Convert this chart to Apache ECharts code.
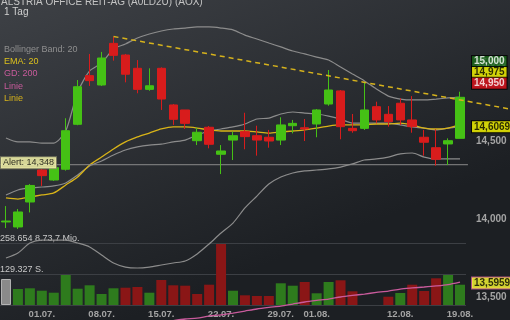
<!DOCTYPE html>
<html><head><meta charset="utf-8">
<script src="https://cdn.jsdelivr.net/npm/echarts@6/dist/echarts.min.js"></script>
<style>html,body{margin:0;padding:0;background:#2a2d31;}#c{width:510px;height:320px;}</style>
</head><body><div id="c"></div>
<script>
// ---------- data ----------
const titleText = 'ALSTRIA OFFICE REIT-AG (A0LD2U) (AOX)';
const subText = '1 Tag';
const legendItems = ['Bollinger Band: 20', 'EMA: 20', 'GD: 200', 'Linie', 'Linie'];

const dates = ['26.06.','27.06.','28.06.','01.07.','02.07.','03.07.','04.07.','05.07.','08.07.','09.07.','10.07.','11.07.','12.07.','15.07.','16.07.','17.07.','18.07.','19.07.','22.07.','23.07.','24.07.','25.07.','26.07.','29.07.','30.07.','31.07.','01.08.','02.08.','05.08.','06.08.','07.08.','08.08.','09.08.','12.08.','13.08.','14.08.','15.08.','16.08.','19.08.'];
const shownDates = ['01.07.','08.07.','15.07.','22.07.','29.07.','01.08.','12.08.','19.08.'];

const openV  = [13.981,13.949,14.109,14.314,14.250,14.319,14.607,14.919,14.859,15.126,15.051,14.966,14.831,14.966,14.731,14.699,14.502,14.588,14.415,14.506,14.560,14.534,14.524,14.506,14.598,14.585,14.609,14.737,14.821,14.581,14.581,14.720,14.671,14.742,14.635,14.524,14.457,14.481,14.517];
const closeV = [13.987,14.045,14.215,14.278,14.329,14.566,14.848,14.887,15.032,15.049,14.928,14.831,14.854,14.769,14.639,14.613,14.556,14.479,14.436,14.534,14.528,14.506,14.500,14.603,14.613,14.577,14.699,14.827,14.592,14.566,14.699,14.635,14.624,14.635,14.592,14.492,14.383,14.502,14.780];
const lowV   = [13.942,13.936,14.042,14.212,14.244,14.310,14.601,14.853,14.853,15.015,14.876,14.806,14.822,14.699,14.603,14.577,14.474,14.453,14.288,14.378,14.447,14.406,14.457,14.474,14.549,14.500,14.524,14.726,14.511,14.553,14.571,14.613,14.592,14.603,14.553,14.406,14.342,14.346,14.517];
const highV  = [14.083,14.064,14.224,14.321,14.337,14.646,14.891,15.058,15.071,15.169,15.058,15.019,14.966,14.972,14.737,14.699,14.585,14.596,14.474,14.560,14.681,14.598,14.571,14.652,14.635,14.641,14.705,14.955,14.827,14.673,14.874,14.752,14.724,14.774,14.788,14.571,14.575,14.517,14.816];

const bbUpper = [14.519,14.494,14.494,14.487,14.487,14.564,14.814,14.949,15.000,15.090,15.122,15.160,15.186,15.205,15.218,15.224,15.231,15.231,15.224,15.212,15.179,15.154,15.128,15.103,15.077,15.058,15.038,15.019,14.974,14.929,14.885,14.833,14.788,14.769,14.763,14.763,14.769,14.776,14.782];
const bbMiddle = [14.154,14.186,14.199,14.205,14.212,14.231,14.282,14.340,14.372,14.410,14.442,14.462,14.474,14.480,14.494,14.506,14.538,14.564,14.577,14.590,14.609,14.641,14.647,14.673,14.686,14.679,14.673,14.660,14.640,14.615,14.615,14.615,14.615,14.603,14.590,14.583,14.571,14.583,14.590];
const bbLower = [13.750,13.782,13.846,13.865,13.865,13.865,13.846,13.821,13.769,13.718,13.692,13.686,13.692,13.705,13.718,13.731,13.776,13.840,13.910,13.974,14.071,14.147,14.224,14.269,14.295,14.308,14.314,14.321,14.333,14.353,14.378,14.385,14.397,14.417,14.423,14.397,14.385,14.385,14.385];
const ema20 = [14.135,14.128,14.141,14.154,14.167,14.218,14.269,14.346,14.397,14.449,14.494,14.526,14.551,14.577,14.590,14.590,14.583,14.571,14.564,14.564,14.564,14.558,14.551,14.558,14.564,14.571,14.583,14.596,14.603,14.603,14.603,14.609,14.609,14.615,14.603,14.583,14.577,14.583,14.6069];
const gd200 = ['-','-','-','-','-','-','-','-','-','-','-','-','-','-',13.349,13.359,13.365,13.378,13.385,13.397,13.410,13.423,13.433,13.442,13.455,13.468,13.478,13.487,13.500,13.510,13.519,13.529,13.538,13.551,13.558,13.564,13.571,13.580,13.5959];

const volume = [108467,66749,69669,59657,51313,125154,68000,82185,45890,69669,72172,75092,51313,104295,82185,80516,45890,84687,254480,59657,40466,37546,37546,90528,80516,95951,48810,95951,103044,57154,null,null,34626,50062,84687,58405,111387,125154,84687];

const priceTicks = [13.5, 14.0, 14.5, 15.0];
const volTicks = [129327, 258654];
const volTickLabels = ['129.327 S.', '258.654 8.73,7 Mio.'];

const alertLevel = 14.348;
const trendStart = [9, 15.170];      // [category index, price]
const trendEnd = [42.18, 14.705];
const quoteValues = [15.000, 14.975, 14.950];

// ---------- styles ----------
const FONT = "'Liberation Sans', Arial, sans-serif";
const UP = '#45c115', DOWN = '#d81c1c';
const VUP = '#2e7b1d', VDOWN = '#8a1616';
const legendColors = ['#8f8f8f', '#dcc01c', '#c95b9c', '#c95b9c', '#d6b21c'];
const quoteStyles = [
  {bg:'#1c6b1c', fg:'#ffffff', dy:-1.5},
  {bg:'#ffff00', fg:'#000000', dy:5.5},
  {bg:'#e4121c', fg:'#ffffff', dy:12.5}
];

const chart = echarts.init(document.getElementById('c'), null, {renderer:'canvas'});

const candleData = dates.map((d, i) => [openV[i], closeV[i], lowV[i], highV[i]]);
const volData = volume.map((v, i) => {
  if (i === 0) return {value: v, itemStyle: {color: '#8a8a8a', borderColor: '#b4b4b4', borderWidth: 1}};
  return {value: v, itemStyle: {color: closeV[i] >= closeV[i - 1] ? VUP : VDOWN}};
});

const labelX = 39.0;
const quoteData = quoteValues.map((v, i) => ({
  value: [labelX, v],
  label: {show: true, position: 'right', distance: 0, offset: [0, quoteStyles[i].dy],
    formatter: v.toFixed(3).replace('.', ','), color: quoteStyles[i].fg,
    backgroundColor: quoteStyles[i].bg, borderColor: '#000', borderWidth: 1,
    padding: [1, 2, 0, 2], fontSize: 10, lineHeight: 10, fontWeight: 'bold', fontFamily: FONT}
}));
const emaLast = ema20[ema20.length - 1];
const gdLast = gd200[gd200.length - 1];
quoteData.push({value: [labelX, emaLast], label: {show: true, position: 'right', distance: 0, offset: [0, 2.5],
  formatter: emaLast.toFixed(4).replace('.', ','), color: '#000', backgroundColor: '#ffff00',
  borderColor: '#000', borderWidth: 1, padding: [1, 1, 0, 2], fontSize: 10, lineHeight: 10, fontWeight: 'bold', fontFamily: FONT}});
quoteData.push({value: [labelX, gdLast], label: {show: true, position: 'right', distance: 0, offset: [0, 1],
  formatter: gdLast.toFixed(4).replace('.', ','), color: '#000', backgroundColor: '#ffff33',
  borderColor: '#c95b9c', borderWidth: 1, padding: [1, 1, 0, 2], fontSize: 10, lineHeight: 10, fontWeight: 'bold', fontFamily: FONT}});

const lineS = (data, color, w, z) => ({type: 'line', xAxisIndex: 0, yAxisIndex: 0, data, symbol: 'none',
  smooth: 0.25, lineStyle: {color, width: w}, z: z, silent: true});

const legendTops = [45.5, 57.3, 69.3, 81.7, 94];
const graphic = [
  {type: 'text', left: 1, top: -3, style: {text: titleText, fill: '#c4c4c4', font: '10px ' + FONT}},
  {type: 'text', left: 4, top: 7.5, style: {text: subText, fill: '#d0d0d0', font: '10px ' + FONT}}
].concat(legendItems.map((t, i) => ({type: 'text', left: 4, top: legendTops[i],
  style: {text: t, fill: legendColors[i], font: '9px ' + FONT}})));

const G = {outerBoundsMode: 'none', containLabel: false};
chart.setOption({
  animation: false,
  backgroundColor: {type: 'linear', x: 0, y: 0, x2: 0.25, y2: 1,
    colorStops: [{offset: 0, color: '#3e4146'}, {offset: 1, color: '#1c1f23'}]},
  graphic,
  grid: [
    Object.assign({left: 0, top: -15, width: 466, height: 390}, G),
    Object.assign({left: 0, top: 243, width: 466, height: 62}, G),
    Object.assign({left: 0, top: -15, width: 510, height: 390}, G)
  ],
  xAxis: [
    {type: 'category', gridIndex: 0, data: dates, show: false},
    {type: 'category', gridIndex: 1, data: dates, axisLine: {show: false}, axisTick: {show: false},
      axisLabel: {interval: (idx, val) => shownDates.includes(val), color: '#a4a4a4', fontSize: 9.5,
        fontWeight: 'bold', fontFamily: FONT, margin: 4}},
    {type: 'value', gridIndex: 2, min: -0.5, max: 42.18, show: false}
  ],
  yAxis: [
    {type: 'value', gridIndex: 0, min: 13, max: 15.5, interval: 0.5, position: 'right',
      splitLine: {show: false}, axisLine: {show: false}, axisTick: {show: false},
      axisLabel: {margin: 10, color: '#a4a4a4', fontSize: 10, fontWeight: 'bold', fontFamily: FONT,
        formatter: v => priceTicks.some(t => Math.abs(t - v) < 1e-6) ? v.toFixed(3).replace('.', ',') : ''}},
    {type: 'value', gridIndex: 1, min: 0, max: 258654, interval: 129327, position: 'left',
      axisLine: {show: false}, axisTick: {show: false},
      splitLine: {show: true, lineStyle: {color: '#3c3f44', width: 1}},
      axisLabel: {inside: true, margin: 0, verticalAlign: 'bottom', color: '#c8c8c8', fontSize: 9, fontFamily: FONT,
        formatter: v => { const k = volTicks.indexOf(v); return k >= 0 ? volTickLabels[k] : ''; }}},
    {type: 'value', gridIndex: 2, min: 13, max: 15.5, show: false}
  ],
  series: [
    {type: 'bar', xAxisIndex: 1, yAxisIndex: 1, data: volData, barWidth: 10, z: 1, silent: true},
    lineS(bbUpper, '#8c8c8c', 1.2, 3),
    lineS(bbMiddle, '#8c8c8c', 1.2, 3),
    lineS(bbLower, '#8c8c8c', 1.2, 3),
    lineS(ema20, '#d9b418', 1.3, 3),
    lineS(gd200, '#c95b9c', 1.3, 6),
    {type: 'line', xAxisIndex: 2, yAxisIndex: 2, data: [[-0.5, alertLevel], [38.66, alertLevel]], symbol: 'none',
      lineStyle: {color: '#8a8a8a', width: 1}, z: 3, silent: true},
    {type: 'candlestick', xAxisIndex: 0, yAxisIndex: 0, data: candleData, barWidth: 9, z: 5, silent: true,
      itemStyle: {color: UP, color0: DOWN, borderColor: UP, borderColor0: DOWN, borderWidth: 1}},
    {type: 'line', xAxisIndex: 2, yAxisIndex: 2, data: [trendStart, trendEnd], symbol: 'none',
      lineStyle: {color: '#d6b21c', width: 1.5, type: [5, 4]}, z: 7, silent: true},
    {type: 'scatter', xAxisIndex: 2, yAxisIndex: 2, symbolSize: 0, z: 10, silent: true,
      data: [{value: [-0.5, alertLevel], label: {show: true, position: 'right', distance: 0, offset: [1, -2],
        formatter: 'Alert: ' + alertLevel.toFixed(3).replace('.', ','), color: '#000', backgroundColor: '#ffffb0',
        borderColor: '#8a8a6a', borderWidth: 1, padding: [1, 2, 0, 2], fontSize: 9, lineHeight: 10, fontFamily: FONT}}]},
    {type: 'scatter', xAxisIndex: 2, yAxisIndex: 2, symbolSize: 0, z: 10, silent: true, data: quoteData}
  ]
});
</script></body></html>
